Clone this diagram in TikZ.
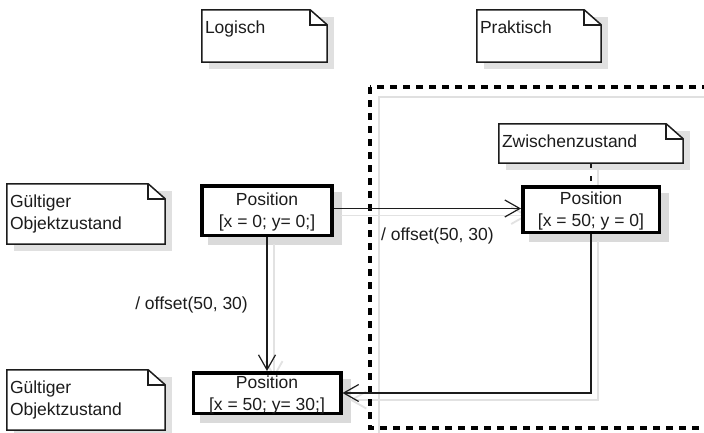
\documentclass[tikz,border=0pt]{standalone}
\usepackage{fontspec}
\setmainfont{Liberation Sans}
\usetikzlibrary{arrows.meta,calc}

\pgfdeclarelayer{shadow}
\pgfdeclarelayer{paper}
\pgfsetlayers{shadow,paper,main}

\definecolor{ink}{HTML}{1C1C1C}
\definecolor{boxshade}{HTML}{DADADA}
\definecolor{noteshade}{HTML}{E0E0E0}
\definecolor{lineshade}{HTML}{E2E2E2}

\tikzset{
  every node/.style={font=\fontsize{17.5}{22}\selectfont, text=ink},
  statebox/.style={draw=black, line width=3.5pt, fill=white, align=center, inner sep=0pt},
  notebox/.style={inner xsep=3pt, inner ysep=9pt},
  noteline/.style={draw=ink, line width=1.5pt, line join=miter},
  flow/.style={draw=ink, line width=1.2pt,
    -{Straight Barb[length=15pt, width=17pt]}},
  flowshade/.style={draw=lineshade, line width=1.8pt,
    -{Straight Barb[length=15pt, width=17pt]},
    transform canvas={shift={(7pt,-7pt)}}},
  attach/.style={draw=ink, line width=1.2pt, dash pattern=on 5pt off 8pt},
  attachshade/.style={draw=lineshade, line width=1.8pt,
    transform canvas={shift={(7pt,-7pt)}}},
  framing/.style={draw=black, line width=4pt, dash pattern=on 7pt off 6pt},
  frameshade/.style={draw=noteshade, line width=2.5pt},
  caption/.style={inner sep=0pt},
}

% top-aligned note text of a fixed height
\newcommand\notetext[3]{\parbox[t][#1][t]{#2}{\vspace*{1.5pt}\raggedright #3}}
% second line of a state label, without depth
\newcommand\flatline[1]{\raisebox{0pt}[\height][0pt]{#1}}

% note with a folded top-right corner, drawn behind the named node
\newcommand\foldnote[1]{%
  \begin{pgfonlayer}{shadow}
    \fill[noteshade] ([shift={(7,7)}]#1.north west) rectangle ([shift={(7,7)}]#1.south east);
  \end{pgfonlayer}
  \begin{pgfonlayer}{paper}
    \filldraw[noteline, fill=white] (#1.north west) -- ([shift={(-17,0)}]#1.north east)
      -- ([shift={(0,15)}]#1.north east) -- (#1.south east) -- (#1.south west) -- cycle;
    \draw[noteline] ([shift={(-17,0)}]#1.north east) |- ([shift={(0,15)}]#1.north east);
  \end{pgfonlayer}}

% grey drop shadow of a state box
\newcommand\boxshade[1]{%
  \begin{pgfonlayer}{shadow}
    \fill[boxshade] ([shift={(8,8)}]#1.north west) rectangle ([shift={(8,8)}]#1.south east);
  \end{pgfonlayer}}

\begin{document}
\begin{tikzpicture}[x=1pt,y=-1pt]
\path[use as bounding box] (0,0) rectangle (704,432);
\begin{pgfonlayer}{shadow}
  \fill[white] (0,0) rectangle (704,432);
\end{pgfonlayer}

% dashed region, running past the right and lower edges
\begin{pgfonlayer}{shadow}
  \begin{scope}
    \clip (0,0) rectangle (704,432);
    \draw[frameshade] (379,97) rectangle (735,442);
  \end{scope}
\end{pgfonlayer}
\begin{pgfonlayer}{paper}
  \begin{scope}
    \clip (0,0) rectangle (704,432);
    \draw[framing] (370,87) rectangle (725,428);
  \end{scope}
\end{pgfonlayer}

% notes
\node[notebox] (lg) at (264.5,36) {\notetext{34pt}{119pt}{Logisch}};
\node[notebox] (pr) at (539,36) {\notetext{34pt}{118pt}{Praktisch}};
\node[notebox] (zw) at (591,143.5) {\notetext{21pt}{178pt}{Zwischenzustand}};
\node[notebox] (g1) at (86,214) {\notetext{42pt}{152pt}{G\"ultiger\\Objektzustand}};
\node[notebox] (g2) at (86,400) {\notetext{42pt}{152pt}{G\"ultiger\\Objektzustand}};
\foldnote{lg}
\foldnote{pr}
\foldnote{zw}
\foldnote{g1}
\foldnote{g2}

% states
\node[statebox, minimum width=130pt, minimum height=49.5pt] (p1) at (267,210.5)
  {Position\\\flatline{[x = 0; y= 0;]}};
\node[statebox, minimum width=136.5pt, minimum height=45.5pt] (p2) at (591,209.5)
  {Position\\\flatline{[x = 50; y = 0]}};
\node[statebox, minimum width=147.5pt, minimum height=40.5pt] (p3) at (267,393)
  {Position\\\flatline{[x = 50; y= 30;]}};
\boxshade{p1}
\boxshade{p2}
\boxshade{p3}

% ends of the horizontal transition
\coordinate (hstart) at ($(p1.east)+(0,-2)$);
\coordinate (hend) at (hstart -| p2.west);

% connector shadows
\begin{pgfonlayer}{shadow}
  \draw[flowshade] (hstart) -- (hend);
  \draw[flowshade] (p1.south) -- (p3.north);
  \draw[flowshade] (p2.south) |- (p3.east);
  \draw[attachshade] (zw.south) -- (p2.north);
\end{pgfonlayer}

% connectors
\draw[attach] (zw.south) -- (p2.north);
\draw[flow] (hstart) -- (hend);
\draw[flow] (p1.south) -- (p3.north);
\draw[flow] (p2.south) |- (p3.east);

% transition labels
\node[caption, anchor=base west] (offh) at (381,240) {/ offset(50, 30)};
\node[caption, anchor=base east] (offv) at (248,309) {/ offset(50, 30)};
\end{tikzpicture}
\end{document}
